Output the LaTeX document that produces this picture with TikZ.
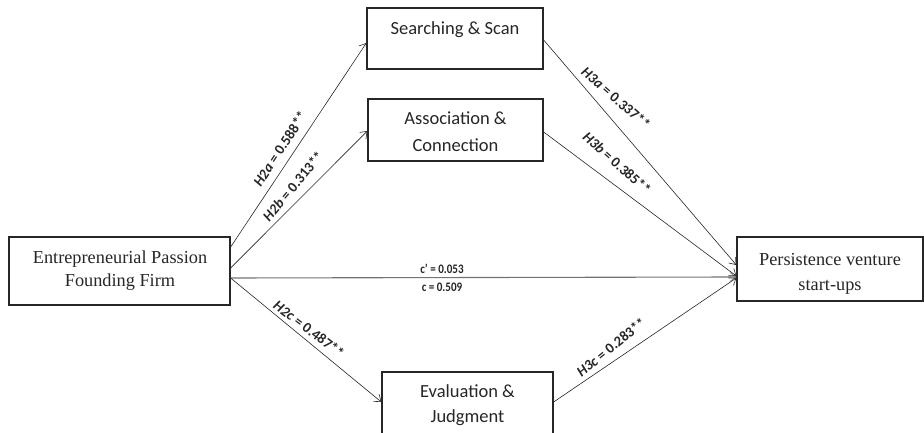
\documentclass[tikz,border=0pt]{standalone}
\usepackage{fontspec}
\usepackage{graphicx}
\setmainfont{Liberation Serif}
\newfontfamily\calib{Carlito}
\usetikzlibrary{arrows.meta}
\begin{document}
\begin{tikzpicture}[x=1pt,y=-1pt,
  box/.style={draw=black!85, line width=1.3pt, inner sep=0pt, rectangle},
  conn/.style={draw=black!85, line width=0.6pt, -{Straight Barb[length=6pt,width=9pt,line width=0.6pt]}},
  main/.style={draw=black!55, line width=1.1pt, -{Straight Barb[length=6pt,width=9pt,line width=0.6pt]}},
  sanstxt/.style={font=\calib\fontsize{18.5}{22}\selectfont, text=black!85, inner sep=0pt, anchor=base},
  seriftxt/.style={font=\fontsize{18.3}{22}\selectfont, text=black!85, inner sep=0pt, anchor=base},
  lab/.style={font=\calib\bfseries\fontsize{14.5}{16}\selectfont, text=black!85, inner sep=0pt},
  hlab/.style={font=\calib\bfseries\fontsize{13}{15}\selectfont, text=black!85, inner sep=0pt, anchor=base}]
\useasboundingbox (0,0) rectangle (924,433);
\clip (0,0) rectangle (924,433);

% boxes
\node[box, minimum width=221pt, minimum height=68pt] (ep) at (119.5,271) {};
\node[box, minimum width=176pt, minimum height=61pt] (ss) at (455,38.5) {};
\node[box, minimum width=175pt, minimum height=62pt] (ac) at (455.5,130) {};
\node[box, minimum width=171pt, minimum height=68pt] (ev) at (467.5,406) {};
\node[box, minimum width=186pt, minimum height=64pt] (pv) at (830,269) {};

% box texts
\node[seriftxt] (ep1) at (120,263) {Entrepreneurial Passion};
\node[seriftxt] (ep2) at (120,286) {Founding Firm};
\node[sanstxt] (ss1) at (455,35) {Searching \& Scan};
\node[sanstxt] (ac1) at (455.5,125) {Association \&};
\node[sanstxt] (ac2) at (455.5,152) {Connection};
\node[sanstxt] (ev1) at (467.5,397) {Evaluation \&};
\node[sanstxt] (ev2) at (467.5,422) {Judgment};
\node[seriftxt] (pv1) at (830,265) {Persistence venture};
\node[seriftxt] (pv2) at (830,290) {start-ups};

% connectors
\draw[conn] ([yshift=24pt]ep.east) -- ([yshift=-4.5pt]ss.west);
\draw[conn] ([yshift=3pt]ep.east) -- ([yshift=-1pt]ac.west);
\draw[main] ([yshift=-7pt]ep.east) -- ([yshift=-8pt]pv.west);
\draw[conn] ([yshift=-7pt]ep.east) -- ([yshift=4pt]ev.west);
\draw[conn] ([yshift=-1.5pt]ss.east) -- ([yshift=4pt]pv.west);
\draw[conn] ([yshift=-2pt]ac.east) -- ([yshift=-7pt]pv.west);
\draw[conn] ([yshift=4pt]ev.east) -- ([yshift=-9pt]pv.west);

% labels
\node[lab, rotate=57] (l2a) at (280,149) {\textit{H2a} = 0.588**};
\node[lab, rotate=50] (l2b) at (293,186) {\textit{H2b} = 0.313**};
\node[lab, rotate=-41] (l3a) at (616,98) {\textit{H3a} = 0.337**};
\node[lab, rotate=-42] (l3b) at (617,163) {\textit{H3b} = 0.385**};
\node[lab, rotate=-37] (l2c) at (309,329) {\textit{H2c} = 0.487**};
\node[lab, rotate=39] (l3c) at (611,347) {\textit{H3c} = 0.283**};
\node[hlab] (lcp) at (442,273) {\scalebox{0.85}[1]{c’ = 0.053}};
\node[hlab] (lc) at (442,291) {\scalebox{0.85}[1]{c = 0.509}};
\end{tikzpicture}
\end{document}
